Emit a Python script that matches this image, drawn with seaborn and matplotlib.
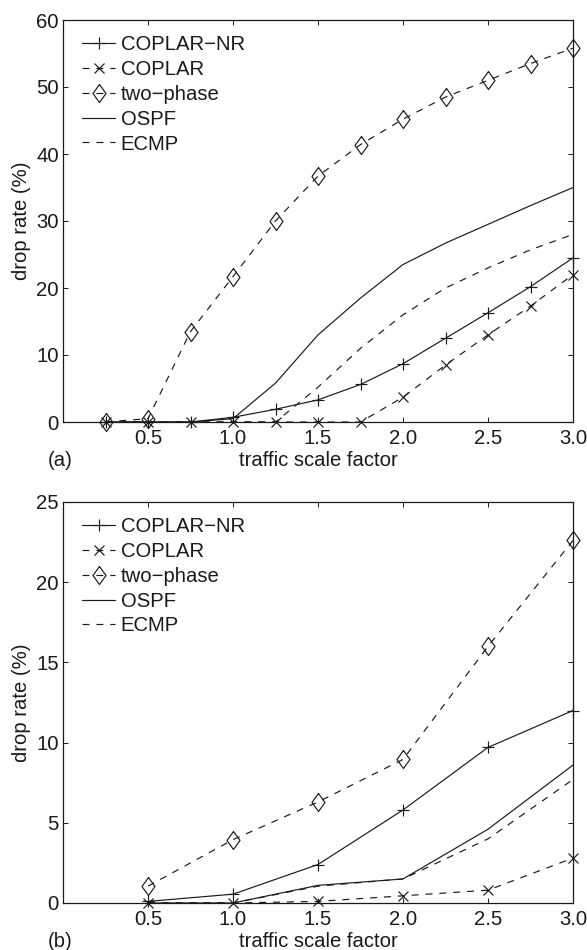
import numpy as np
import pandas as pd
import matplotlib
matplotlib.use("Agg")
import matplotlib.pyplot as plt
import seaborn as sns

sns.set_style("ticks")
plt.rcParams['font.family'] = ['Liberation Sans', 'DejaVu Sans']
plt.rcParams['lines.scale_dashes'] = False

# ---------- data ----------
series_names = ["COPLAR-NR", "COPLAR", "two-phase", "OSPF", "ECMP"]
legend_labels = ["COPLAR\u2212NR", "COPLAR", "two\u2212phase", "OSPF", "ECMP"]

x_a = [0.25, 0.5, 0.75, 1.0, 1.25, 1.5, 1.75, 2.0, 2.25, 2.5, 2.75, 3.0]
a_coplar_nr = [0, 0, 0, 0.7, 1.9, 3.3, 5.6, 8.7, 12.5, 16.3, 20.2, 24.5]
a_coplar = [0, 0, 0, 0, 0, 0, 0, 3.7, 8.5, 13.0, 17.3, 22.0]
a_two_phase = [0, 0.5, 13.5, 21.7, 30.0, 36.7, 41.4, 45.2, 48.5, 51.0, 53.5, 55.8]
a_ospf = [0, 0, 0, 0.5, 5.8, 13.0, 18.5, 23.5, 26.7, 29.5, 32.3, 35.0]
a_ecmp = [0, 0, 0, 0, 0, 5.2, 11.0, 16.0, 20.0, 23.0, 25.7, 28.0]

x_b = [0.5, 1.0, 1.5, 2.0, 2.5, 3.0]
b_coplar_nr = [0.1, 0.55, 2.4, 5.8, 9.7, 12.0]
b_coplar = [0, 0, 0.1, 0.45, 0.8, 2.8]
b_two_phase = [1.05, 3.95, 6.3, 8.95, 16.0, 22.6]
b_ospf = [0, 0, 1.1, 1.5, 4.6, 8.6]
b_ecmp = [0, 0, 1.05, 1.5, 4.0, 7.7]

x_ticks = [0.5, 1.0, 1.5, 2.0, 2.5, 3.0]
a_yticks = [0, 10, 20, 30, 40, 50, 60]
b_yticks = [0, 5, 10, 15, 20, 25]

# ---------- styles ----------
INK = "#1a1a1a"
DASH = (0, (5, 5))
diamond = [(0, 1), (0.72, 0), (0, -1), (-0.72, 0), (0, 1)]
styles = {
    "COPLAR-NR": dict(marker="+", ms=8.5, ls="-"),
    "COPLAR": dict(marker="x", ms=7, ls=DASH),
    "two-phase": dict(marker=diamond, ms=13, ls=DASH),
    "OSPF": dict(marker="None", ms=0, ls="-"),
    "ECMP": dict(marker="None", ms=0, ls=DASH),
}

FS = 14.6

fig = plt.figure(figsize=(5.87, 9.5), dpi=100)
W, H = 587, 950
ax_a = fig.add_axes([63 / W, (H - 422) / H, 510 / W, 402 / H])
ax_b = fig.add_axes([63 / W, (H - 903) / H, 510 / W, 401 / H])


def draw(ax, xs, ys_list, yticks, ymax, tag):
    for name, lab, ys in zip(series_names, legend_labels, ys_list):
        st = styles[name]
        sns.lineplot(x=xs, y=ys, ax=ax, color=INK, linestyle=st["ls"],
                     linewidth=0.85, marker=st["marker"], markersize=st["ms"],
                     markeredgecolor=INK, markerfacecolor="none",
                     markeredgewidth=0.85, label=lab, errorbar=None,
                     clip_on=False)
    ax.set_xlim(0, 3.0)
    ax.set_ylim(0, ymax)
    ax.set_xticks(x_ticks)
    ax.set_xticklabels([f"{v:.1f}" for v in x_ticks])
    ax.set_yticks(yticks)
    ax.set_yticklabels([str(v) for v in yticks])
    ax.tick_params(direction="in", length=3.5, width=0.7, top=True,
                   right=True, labelsize=FS, colors=INK)
    ax.tick_params(axis="x", pad=5)
    ax.tick_params(axis="y", pad=3)
    for sp in ax.spines.values():
        sp.set_linewidth(0.9)
        sp.set_color(INK)
        sp.set_visible(True)
    ax.set_xlabel("traffic scale factor", fontsize=FS, color=INK)
    ax.xaxis.label.set_va("center")
    ax.xaxis.set_label_coords(0.5, -38.5 / 402)
    ax.set_ylabel("drop rate (%)", fontsize=FS, color=INK)
    ax.yaxis.label.set_va("center")
    ax.yaxis.set_label_coords(-41 / 510, 0.5)
    leg = ax.legend(loc="upper left", bbox_to_anchor=(19 / 510, 1 - 15 / 402),
                    frameon=False, fontsize=FS, handlelength=1.65,
                    handletextpad=0.25, labelspacing=0.29, borderpad=0,
                    borderaxespad=0, numpoints=1)
    for t in leg.get_texts():
        t.set_color(INK)
    ax.text(60 / 510 - 63 / 510, -38.5 / 402, tag, transform=ax.transAxes,
            ha="center", va="center", fontsize=FS, color=INK)


draw(ax_a, x_a, [a_coplar_nr, a_coplar, a_two_phase, a_ospf, a_ecmp],
     a_yticks, 60, "(a)")
draw(ax_b, x_b, [b_coplar_nr, b_coplar, b_two_phase, b_ospf, b_ecmp],
     b_yticks, 25, "(b)")

fig.savefig("out.png", dpi=100)
